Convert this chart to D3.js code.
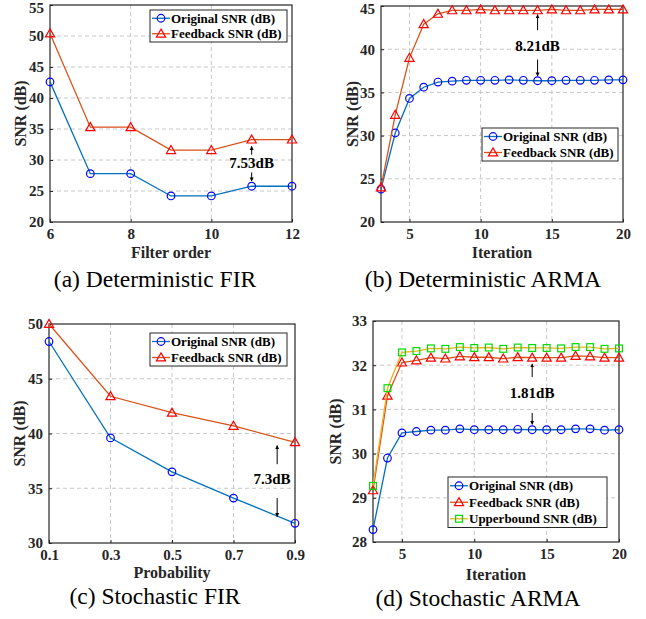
<!DOCTYPE html>
<html>
<head>
<meta charset="utf-8">
<script src="https://cdn.jsdelivr.net/npm/d3@7"></script>
<style>
  body { margin: 0; background: #fff; }
  text { font-family: "Liberation Serif", "Times New Roman", serif; }
</style>
</head>
<body>
<div id="chart"></div>
<script>
// ---- data ----
const filterOrder = [6, 7, 8, 9, 10, 11, 12];
const firOriginal = [42.6, 27.8, 27.8, 24.2, 24.2, 25.77, 25.77];
const firFeedback = [50.4, 35.3, 35.3, 31.6, 31.6, 33.3, 33.3];

const iterations = [3, 4, 5, 6, 7, 8, 9, 10, 11, 12, 13, 14, 15, 16, 17, 18, 19, 20];
const armaOriginal = [23.8, 30.3, 34.3, 35.6, 36.2, 36.3, 36.4, 36.4, 36.4, 36.45, 36.4, 36.35, 36.35, 36.4, 36.4, 36.4, 36.45, 36.45];
const armaFeedback = [24.0, 32.4, 39.0, 42.9, 44.1, 44.5, 44.5, 44.6, 44.5, 44.5, 44.5, 44.5, 44.6, 44.5, 44.5, 44.6, 44.6, 44.6];

const probability = [0.1, 0.3, 0.5, 0.7, 0.9];
const stochFirOriginal = [48.4, 39.6, 36.5, 34.1, 31.8];
const stochFirFeedback = [50.0, 43.4, 41.9, 40.7, 39.2];

const stochArmaOriginal = [28.28, 29.9, 30.47, 30.5, 30.53, 30.53, 30.56, 30.54, 30.54, 30.54, 30.55, 30.54, 30.54, 30.54, 30.56, 30.56, 30.53, 30.54];
const stochArmaFeedback = [29.17, 31.31, 32.06, 32.11, 32.17, 32.15, 32.2, 32.18, 32.18, 32.15, 32.18, 32.17, 32.17, 32.17, 32.21, 32.2, 32.17, 32.17];
const stochArmaUpper = [29.27, 31.48, 32.29, 32.32, 32.38, 32.37, 32.41, 32.39, 32.4, 32.37, 32.4, 32.39, 32.39, 32.38, 32.41, 32.41, 32.37, 32.38];

const legendNames = ["Original SNR (dB)", "Feedback SNR (dB)", "Upperbound SNR (dB)"];

// ---- styles ----
const styles = [
  { line: "#0072BD", marker: "#0000FF", shape: "circle" },
  { line: "#D95319", marker: "#FF0000", shape: "triangle" },
  { line: "#EDB120", marker: "#00DD00", shape: "square" }
];

const width = 646, height = 619;
const svg = d3.select("#chart").append("svg")
  .attr("width", width)
  .attr("height", height);

const panels = [
  {
    box: { l: 50, r: 292, t: 5, b: 222 },
    xDomain: [6, 12], xTicks: [6, 8, 10, 12], xFmt: d3.format("d"),
    yDomain: [20, 55], yTicks: [20, 25, 30, 35, 40, 45, 50, 55],
    x: filterOrder, series: [firOriginal, firFeedback],
    xLabel: "Filter order", xLabelY: 258, yLabelX: 20,
    caption: "(a) Deterministic FIR", captionX: 155, captionY: 287,
    legend: { x: 150, y: 10, w: 137, rowH: 15.5 },
    note: { text: "7.53dB", tx: 11, ty: 29.5, ax: 11, up: [30.85, 32.2], down: [28.0, 26.6] }
  },
  {
    box: { l: 381, r: 623, t: 6, b: 222 },
    xDomain: [3, 20], xTicks: [5, 10, 15, 20], xFmt: d3.format("d"),
    yDomain: [20, 45], yTicks: [20, 25, 30, 35, 40, 45],
    x: iterations, series: [armaOriginal, armaFeedback],
    xLabel: "Iteration", xLabelY: 258, yLabelX: 352,
    caption: "(b) Deterministic ARMA", captionX: 483, captionY: 287,
    legend: { x: 482, y: 128, w: 136, rowH: 16 },
    note: { text: "8.21dB", tx: 14, ty: 40.4, ax: 14, up: [42.2, 44.0], down: [38.8, 36.9] }
  },
  {
    box: { l: 49, r: 295, t: 324, b: 543 },
    xDomain: [0.1, 0.9], xTicks: [0.1, 0.3, 0.5, 0.7, 0.9], xFmt: d3.format(".1f"),
    yDomain: [30, 50], yTicks: [30, 35, 40, 45, 50],
    x: probability, series: [stochFirOriginal, stochFirFeedback],
    xLabel: "Probability", xLabelY: 578, yLabelX: 19,
    caption: "(c) Stochastic FIR", captionX: 155, captionY: 604,
    legend: { x: 150, y: 333, w: 137, rowH: 16 },
    note: { text: "7.3dB", tx: 0.825, ty: 35.9, ax: 0.842, up: [37.2, 38.9], down: [34.1, 32.4] }
  },
  {
    box: { l: 373, r: 619, t: 321, b: 542 },
    xDomain: [3, 20], xTicks: [5, 10, 15, 20], xFmt: d3.format("d"),
    yDomain: [28, 33], yTicks: [28, 29, 30, 31, 32, 33],
    x: iterations, series: [stochArmaOriginal, stochArmaFeedback, stochArmaUpper],
    xLabel: "Iteration", xLabelY: 580, yLabelX: 335,
    caption: "(d) Stochastic ARMA", captionX: 478, captionY: 606,
    legend: { x: 448, y: 477, w: 159, rowH: 16.5 },
    note: { text: "1.81dB", tx: 14, ty: 31.37, ax: 14, up: [31.73, 32.03], down: [30.92, 30.66] }
  }
];

// arrow head marker
svg.append("defs").append("marker")
  .attr("id", "arrow")
  .attr("viewBox", "0 0 10 10")
  .attr("refX", 9).attr("refY", 5)
  .attr("markerWidth", 4).attr("markerHeight", 5)
  .attr("orient", "auto")
  .append("path")
  .attr("d", "M0,0 L10,5 L0,10 Z")
  .attr("fill", "#000");

function drawMarker(g, shape, cx, cy, color) {
  if (shape === "circle") {
    g.append("circle").attr("cx", cx).attr("cy", cy).attr("r", 3.8)
      .attr("fill", "none").attr("stroke", color).attr("stroke-width", 1.2);
  } else if (shape === "triangle") {
    const s = 4.6;
    g.append("path")
      .attr("d", `M${cx},${cy - s} L${cx + s},${cy + s * 0.75} L${cx - s},${cy + s * 0.75} Z`)
      .attr("fill", "none").attr("stroke", color).attr("stroke-width", 1.2);
  } else {
    const s = 3.4;
    g.append("rect").attr("x", cx - s).attr("y", cy - s).attr("width", 2 * s).attr("height", 2 * s)
      .attr("fill", "none").attr("stroke", color).attr("stroke-width", 1.2);
  }
}

panels.forEach(p => {
  const g = svg.append("g");
  const x = d3.scaleLinear().domain(p.xDomain).range([p.box.l, p.box.r]);
  const y = d3.scaleLinear().domain(p.yDomain).range([p.box.b, p.box.t]);

  // grid
  g.append("g").selectAll("line.gx")
    .data(p.xTicks.filter(t => t !== p.xDomain[0] && t !== p.xDomain[1]))
    .join("line")
    .attr("x1", d => x(d)).attr("x2", d => x(d))
    .attr("y1", p.box.t).attr("y2", p.box.b)
    .attr("stroke", "#c8c8c8").attr("stroke-dasharray", "4,3").attr("stroke-width", 1);
  g.append("g").selectAll("line.gy")
    .data(p.yTicks.filter(t => t !== p.yDomain[0] && t !== p.yDomain[1]))
    .join("line")
    .attr("x1", p.box.l).attr("x2", p.box.r)
    .attr("y1", d => y(d)).attr("y2", d => y(d))
    .attr("stroke", "#c8c8c8").attr("stroke-dasharray", "4,3").attr("stroke-width", 1);

  // axes (inward ticks, MATLAB style)
  const xAxis = g.append("g")
    .attr("transform", `translate(0,${p.box.b})`)
    .call(d3.axisBottom(x).tickValues(p.xTicks).tickFormat(p.xFmt).tickSize(-3).tickPadding(6));
  const yAxis = g.append("g")
    .attr("transform", `translate(${p.box.l},0)`)
    .call(d3.axisLeft(y).tickValues(p.yTicks).tickFormat(d3.format("d")).tickSize(-3).tickPadding(6));
  [xAxis, yAxis].forEach(ax => {
    ax.select(".domain").remove();
    ax.selectAll(".tick line").attr("stroke", "#262626");
    ax.selectAll(".tick text")
      .attr("fill", "#262626")
      .style("font-family", '"Liberation Serif", serif')
      .style("font-weight", "bold")
      .style("font-size", "15px");
  });
  // keep the top tick label inside the picture
  yAxis.selectAll(".tick text").filter(d => y(d) < 10).attr("dy", "0.5em");

  // frame
  g.append("rect")
    .attr("x", p.box.l).attr("y", p.box.t)
    .attr("width", p.box.r - p.box.l).attr("height", p.box.b - p.box.t)
    .attr("fill", "none").attr("stroke", "#262626").attr("stroke-width", 1.2);

  // series
  p.series.forEach((vals, si) => {
    const st = styles[si];
    const pts = p.x.map((xv, i) => [xv, vals[i]]);
    g.append("path")
      .datum(pts)
      .attr("fill", "none")
      .attr("stroke", st.line)
      .attr("stroke-width", 1.3)
      .attr("d", d3.line().x(d => x(d[0])).y(d => y(d[1])));
    pts.forEach(d => drawMarker(g, st.shape, x(d[0]), y(d[1]), st.marker));
  });

  // annotation
  const n = p.note;
  g.append("text")
    .attr("x", x(n.tx)).attr("y", y(n.ty))
    .attr("dy", "0.35em")
    .attr("text-anchor", "middle")
    .style("font-weight", "bold").style("font-size", "15px")
    .text(n.text);
  [n.up, n.down].forEach(seg => {
    g.append("line")
      .attr("x1", x(n.ax)).attr("x2", x(n.ax))
      .attr("y1", y(seg[0])).attr("y2", y(seg[1]))
      .attr("stroke", "#000").attr("stroke-width", 1)
      .attr("marker-end", "url(#arrow)");
  });

  // legend
  const lg = p.legend;
  const nRows = p.series.length;
  const lgBox = g.append("g");
  lgBox.append("rect")
    .attr("x", lg.x).attr("y", lg.y)
    .attr("width", lg.w).attr("height", lg.rowH * nRows + 1)
    .attr("fill", "#fff").attr("stroke", "#262626").attr("stroke-width", 1);
  p.series.forEach((vals, si) => {
    const st = styles[si];
    const cy = lg.y + lg.rowH * (si + 0.5) + 0.5;
    lgBox.append("line")
      .attr("x1", lg.x + 2).attr("x2", lg.x + 20)
      .attr("y1", cy).attr("y2", cy)
      .attr("stroke", st.line).attr("stroke-width", 1.3);
    drawMarker(lgBox, st.shape, lg.x + 11, cy, st.marker);
    lgBox.append("text")
      .attr("x", lg.x + 21).attr("y", cy).attr("dy", "0.35em")
      .style("font-weight", "bold").style("font-size", "13px")
      .attr("fill", "#000")
      .text(legendNames[si]);
  });

  // axis labels
  g.append("text")
    .attr("x", (p.box.l + p.box.r) / 2).attr("y", p.xLabelY)
    .attr("text-anchor", "middle")
    .style("font-weight", "bold").style("font-size", "16px")
    .attr("fill", "#262626")
    .text(p.xLabel);
  g.append("text")
    .attr("transform", `translate(${p.yLabelX},${(p.box.t + p.box.b) / 2}) rotate(-90)`)
    .attr("text-anchor", "middle").attr("dy", "0.35em")
    .style("font-weight", "bold").style("font-size", "16px")
    .attr("fill", "#262626")
    .text("SNR (dB)");

  // caption
  g.append("text")
    .attr("x", p.captionX).attr("y", p.captionY)
    .attr("text-anchor", "middle")
    .style("font-size", "23.5px")
    .attr("fill", "#000")
    .text(p.caption);
});
</script>
</body>
</html>
